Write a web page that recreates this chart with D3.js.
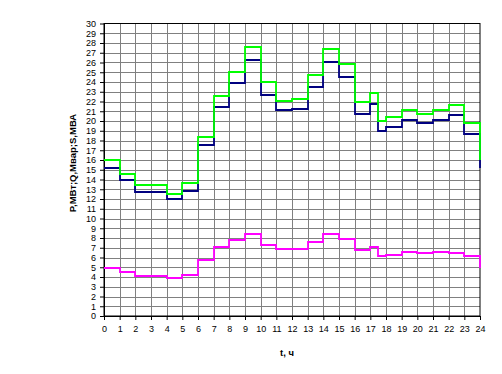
<!DOCTYPE html>
<html>
<head>
<meta charset="utf-8"/>
<script src="https://d3js.org/d3.v7.min.js"></script>
<style>
    body { margin: 0; background: #ffffff; }
    svg { display: block; font-family: "Liberation Sans", Arial, sans-serif; }
    .axis path, .axis line { stroke: #000000; }
    .axis text { fill: #000000; font-size: 9px; }
</style>
</head>
<body>
<svg id="chart" width="502" height="374"></svg>
<script>
// hours of the step changes (one extra half-hour step at 17.5), last point closes the day
var hours = [0, 1, 2, 3, 4, 5, 6, 7, 8, 9, 10, 11, 12, 13, 14, 15, 16, 17, 17.5, 18, 19, 20, 21, 22, 23, 24];

// S, MVA
var sValues = [16.05, 14.6, 13.4, 13.4, 12.55, 13.6, 18.4, 22.6, 25.05, 27.6, 23.95, 22.1, 22.3,
    24.75, 27.4, 25.8, 21.9, 22.85, 20.05, 20.45, 21.15, 20.75, 21.15, 21.65, 19.75, 16.05];
// P, MW
var pValues = [15.2, 13.9, 12.75, 12.75, 12.05, 12.85, 17.55, 21.45, 23.85, 26.3, 22.7, 21.1, 21.2,
    23.5, 26.1, 24.55, 20.75, 21.75, 19.0, 19.4, 20.15, 19.75, 20.15, 20.65, 18.7, 15.2];
// Q, Mvar
var qValues = [4.88, 4.47, 4.06, 4.06, 3.86, 4.16, 5.7, 7.03, 7.75, 8.46, 7.3, 6.83, 6.83,
    7.54, 8.46, 7.85, 6.72, 7.03, 6.11, 6.28, 6.52, 6.42, 6.52, 6.42, 6.11, 4.88];

var xTicks = d3.range(0, 25);
var yTicks = d3.range(0, 31);

var svg = d3.select("#chart");

var x = d3.scaleLinear().domain([0, 24]).range([104, 480]);
var y = d3.scaleLinear().domain([0, 30]).range([316, 23.5]);

// grid
svg.append("g").selectAll("line.v").data(xTicks.slice(1, -1)).enter()
    .append("line")
    .attr("x1", function(d) { return Math.round(x(d)) + 0.5; })
    .attr("x2", function(d) { return Math.round(x(d)) + 0.5; })
    .attr("y1", y(0)).attr("y2", y(30))
    .attr("stroke", "#808080").attr("stroke-width", 1);
svg.append("g").selectAll("line.h").data(yTicks.slice(1, -1)).enter()
    .append("line")
    .attr("x1", x(0)).attr("x2", x(24))
    .attr("y1", function(d) { return Math.round(y(d)) + 0.5; })
    .attr("y2", function(d) { return Math.round(y(d)) + 0.5; })
    .attr("stroke", "#808080").attr("stroke-width", 1);

// plot frame
svg.append("rect")
    .attr("x", x(0)).attr("y", y(30))
    .attr("width", x(24) - x(0)).attr("height", y(0) - y(30))
    .attr("fill", "none").attr("stroke", "#000000").attr("stroke-width", 1);

// axes
svg.append("g").attr("class", "axis")
    .attr("transform", "translate(0," + y(0) + ")")
    .call(d3.axisBottom(x).tickValues(xTicks).tickFormat(d3.format("d")).tickSize(4).tickPadding(6).tickSizeOuter(0));
svg.append("g").attr("class", "axis")
    .attr("transform", "translate(" + x(0) + ",0)")
    .call(d3.axisLeft(y).tickValues(yTicks).tickFormat(d3.format("d")).tickSize(4).tickPadding(4).tickSizeOuter(0));

// series, snapped to whole pixels so 2px lines stay crisp
var line = d3.line()
    .x(function(d) { return Math.round(x(d[0])); })
    .y(function(d) { return Math.round(y(d[1])); })
    .curve(d3.curveStepAfter);

function drawSeries(values, color) {
    svg.append("path")
        .datum(d3.zip(hours, values))
        .attr("d", line)
        .attr("fill", "none")
        .attr("stroke", color)
        .attr("stroke-width", 1.8);
}
drawSeries(qValues, "#ff00ff");
drawSeries(pValues, "#000080");
drawSeries(sValues, "#00ff00");

// titles
svg.append("text")
    .attr("transform", "translate(76,163) rotate(-90)")
    .attr("text-anchor", "middle")
    .attr("font-size", "9.5px").attr("font-weight", "bold")
    .text("P,МВт;Q,Мвар;S,МВА");
svg.append("text")
    .attr("x", 287).attr("y", 356)
    .attr("text-anchor", "middle")
    .attr("font-size", "9.5px").attr("font-weight", "bold")
    .text("t, ч");
</script>
</body>
</html>
